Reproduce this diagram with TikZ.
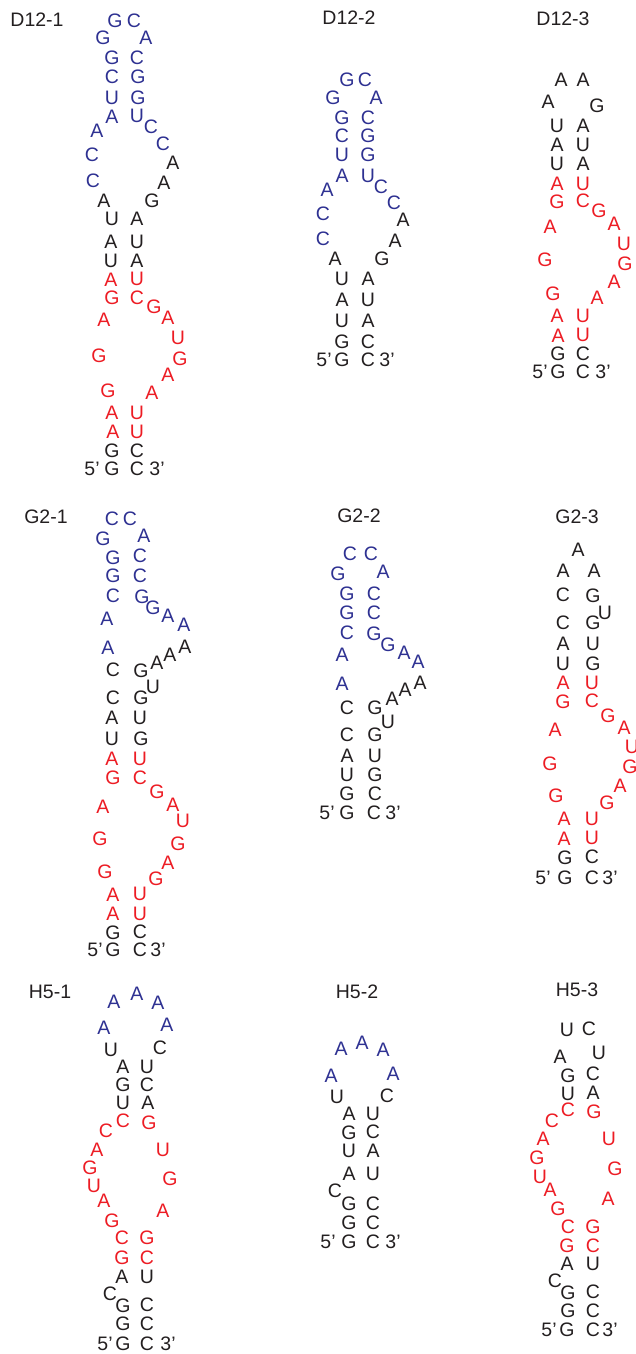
\documentclass[tikz,border=0pt]{standalone}
\usepackage{fontspec}
\setmainfont{Liberation Sans}
\definecolor{ntBlue}{HTML}{2E3192}
\definecolor{ntRed}{HTML}{ED1C24}
\definecolor{ntBlack}{HTML}{231F20}
\tikzset{
  ntbase/.style={inner sep=0pt, text height=14pt, text depth=0pt,
    font=\fontsize{19.5}{20}\selectfont},
  blueNt/.style={ntbase, text=ntBlue},
  redNt/.style={ntbase, text=ntRed},
  blackNt/.style={ntbase, text=ntBlack},
  titleNt/.style={ntbase, text=ntBlack}
}
% place a list of x/y/letter triples with one style, naming nodes <prefix><n>
\newcommand\ntlist[3]{%
  \foreach \px/\py/\lt [count=\i] in {#3} {\node[#1] (#2\i) at (\px,\py) {\lt};}}
\begin{document}
\begin{tikzpicture}[x=1pt,y=-1pt]
\useasboundingbox (0,0) rectangle (635,1354);
\fill[white] (0,0) rectangle (635,1354);

% ---------------- D12-1 ----------------
\node[titleNt] (tD121) at (37,20) {D12-1};
\ntlist{blueNt}{dAb}{115/21/G, 134/21/C, 103/38/G, 146/38/A, 112/57/G, 137/57/C, 112/77/C, 138/77/G, 112/97/U, 138/97/G, 112/116/A, 137/115/U, 97/130/A, 151/126/C, 92/154/C, 163/143/C, 93/180/C}
\ntlist{blackNt}{dAk}{173/162/A, 164/182/A, 152/200/G, 104/200/A, 112/218/U, 137/218/A, 111/241/A, 137/241/U, 111/260/U, 137/260/A, 112/450/G, 137/450/C, 92/468/5’, 112/468/G, 137/468/C, 157/468/3’}
\ntlist{redNt}{dAr}{111/279/A, 137/278/U, 112/297/G, 137/297/C, 154/306/G, 104/319/A, 168/317/A, 178/337/U, 99/355/G, 180/358/G, 168/374/A, 152/392/A, 108/390/G, 112/412/A, 137/412/U, 113/431/A, 137/431/U}

% ---------------- D12-2 ----------------
\node[titleNt] (tD122) at (349,18) {D12-2};
\ntlist{blueNt}{dBb}{347/79/G, 365/79/C, 333/97/G, 376/97/A, 342/117/G, 368/117/C, 342/135/C, 368/135/G, 342/154/U, 368/154/G, 342/175/A, 368/175/U, 327/189/A, 381/186/C, 323/213/C, 394/202/C, 323/238/C}
\ntlist{blackNt}{dBk}{403/219/A, 395/240/A, 382/258/G, 335/258/A, 342/278/U, 368/278/A, 342/299/A, 368/299/U, 342/320/U, 368/320/A, 342/341/G, 368/341/C, 324/359/5’, 342/359/G, 368/359/C, 387/359/3’}

% ---------------- D12-3 ----------------
\node[titleNt] (tD123) at (563,19) {D12-3};
\ntlist{blackNt}{dCk}{561/79/A, 583/79/A, 548/101/A, 597/105/G, 557/125/U, 583/125/A, 557/144/A, 583/144/U, 557/163/U, 583/163/A, 558/353/G, 583/353/C, 540/371/5’, 558/371/G, 583/371/C, 603/371/3’}
\ntlist{redNt}{dCr}{557/183/A, 583/183/U, 557/201/G, 583/200/C, 599/210/G, 550/226/A, 614/223/A, 624/243/U, 545/259/G, 625/263/G, 614/281/A, 597/297/A, 553/293/G, 557/315/A, 583/315/U, 558/335/A, 583/334/U}

% ---------------- G2-1 ----------------
\node[titleNt] (tG21) at (46,516) {G2-1};
\ntlist{blueNt}{gAb}{112/518/C, 130/518/C, 103/538/G, 144/535/A, 113/557/G, 140/555/C, 113/575/G, 140/575/C, 113/595/C, 142/596/G, 153/607/G, 107/618/A, 168/615/A, 184/624/A, 108/647/A}
\ntlist{blackNt}{gAk}{185/646/A, 170/654/A, 157/662/A, 141/670/G, 113/669/C, 153/686/U, 113/697/C, 141/697/G, 112/717/A, 140/717/U, 112/738/U, 141/738/G, 113/932/G, 140/931/C, 95/949/5’, 113/949/G, 140/949/C, 158/949/3’}
\ntlist{redNt}{gAr}{112/758/A, 140/758/U, 113/777/G, 140/777/C, 157/791/G, 103/806/A, 173/804/A, 183/820/U, 100/838/G, 178/843/G, 168/862/A, 105/871/G, 156/878/G, 113/894/A, 140/893/U, 113/913/A, 140/913/U}

% ---------------- G2-2 ----------------
\node[titleNt] (tG22) at (359,515) {G2-2};
\ntlist{blueNt}{gBb}{350/553/C, 371/553/C, 338/573/G, 383/571/A, 347/593/G, 374/593/C, 347/612/G, 374/612/C, 347/632/C, 374/633/G, 388/644/G, 342/654/A, 404/652/A, 418/661/A, 342/683/A}
\ntlist{blackNt}{gBk}{420/682/A, 405/689/A, 392/698/A, 347/707/C, 375/707/G, 388/721/U, 347/734/C, 375/734/G, 347/755/A, 375/755/U, 347/774/U, 375/774/G, 347/793/G, 375/793/C, 327/812/5’, 347/812/G, 374/812/C, 393/812/3’}

% ---------------- G2-3 ----------------
\node[titleNt] (tG23) at (577,516) {G2-3};
\ntlist{blackNt}{gCk}{578/549/A, 563/570/A, 594/570/A, 563/594/C, 593/595/G, 605/612/U, 563/622/C, 593/622/G, 563/643/A, 593/643/U, 563/663/U, 593/663/G, 565/857/G, 592/856/C, 543/877/5’, 565/877/G, 592/877/C, 610/877/3’}
\ntlist{redNt}{gCr}{563/682/A, 592/682/U, 563/701/G, 592/700/C, 608/715/G, 555/729/A, 624/727/A, 632/746/U, 550/763/G, 630/766/G, 620/785/A, 556/795/G, 607/802/G, 564/818/A, 592/818/U, 564/838/A, 592/837/U}

% ---------------- H5-1 ----------------
\node[titleNt] (tH51) at (50,991) {H5-1};
\ntlist{blueNt}{hAb}{114/1001/A, 137/993/A, 158/1002/A, 104/1027/A, 167/1024/A}
\ntlist{blackNt}{hAk}{111/1049/U, 160/1047/C, 123/1066/A, 147/1066/U, 123/1084/G, 147/1084/C, 123/1102/U, 148/1102/A, 122/1276/A, 147/1276/U, 110/1293/C, 123/1305/G, 147/1304/C, 123/1323/G, 147/1323/C, 105/1343/5’, 123/1343/G, 147/1343/C, 168/1343/3’}
\ntlist{redNt}{hAr}{123/1120/C, 149/1122/G, 106/1130/C, 97/1149/A, 163/1149/U, 90/1167/G, 170/1178/G, 94/1185/U, 104/1200/A, 163/1210/A, 112/1220/G, 122/1237/C, 147/1237/G, 122/1257/G, 147/1257/C}

% ---------------- H5-2 ----------------
\node[titleNt] (tH52) at (357,991) {H5-2};
\ntlist{blueNt}{hBb}{341/1048/A, 362/1042/A, 383/1049/A, 331/1075/A, 393/1073/A}
\ntlist{blackNt}{hBk}{337/1096/U, 387/1095/C, 349/1113/A, 373/1113/U, 349/1132/G, 373/1131/C, 349/1150/U, 373/1150/A, 349/1173/A, 373/1173/U, 335/1190/C, 349/1203/G, 373/1203/C, 349/1222/G, 373/1222/C, 328/1241/5’, 349/1241/G, 373/1241/C, 393/1241/3’}

% ---------------- H5-3 ----------------
\node[titleNt] (tH53) at (577,989) {H5-3};
\ntlist{blackNt}{hCk}{567/1029/U, 589/1028/C, 560/1056/A, 599/1052/U, 568/1075/G, 593/1073/C, 568/1093/U, 593/1092/A, 567/1263/A, 593/1263/U, 555/1280/C, 568/1292/G, 593/1291/C, 568/1310/G, 593/1310/C, 549/1329/5’, 567/1329/G, 593/1329/C, 610/1329/3’}
\ntlist{redNt}{hCr}{568/1109/C, 594/1111/G, 552/1120/C, 543/1138/A, 609/1138/U, 537/1157/G, 615/1168/G, 540/1176/U, 550/1189/A, 608/1198/A, 558/1208/G, 568/1226/C, 593/1226/G, 567/1245/G, 593/1245/C}
\end{tikzpicture}
\end{document}
